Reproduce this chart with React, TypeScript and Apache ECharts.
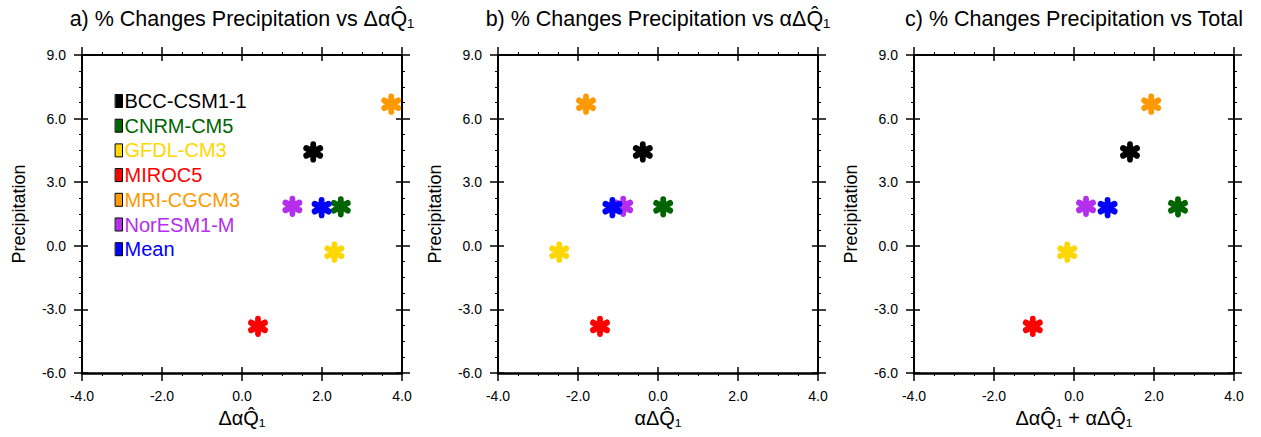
import React, { useEffect, useRef } from "react";
import * as echarts from "echarts";

const models = ["BCC-CSM1-1", "CNRM-CM5", "GFDL-CM3", "MIROC5", "MRI-CGCM3", "NorESM1-M", "Mean"];
const colors = ["#000000", "#006400", "#FFD700", "#FF0000", "#FF9900", "#B42EEE", "#0000FF"];
const precipitation = [4.43, 1.84, -0.3, -3.8, 6.68, 1.86, 1.8];
const dAlphaQ = [1.78, 2.47, 2.31, 0.4, 3.73, 1.26, 1.99];
const alphaDQ = [-0.38, 0.13, -2.47, -1.45, -1.8, -0.87, -1.14];
const totalQ = [1.4, 2.6, -0.17, -1.03, 1.93, 0.3, 0.84];

const titles = [
  "a) % Changes Precipitation vs \u0394\u03B1Q\u0302\u2081",
  "b) % Changes Precipitation vs \u03B1\u0394Q\u0302\u2081",
  "c) % Changes Precipitation vs Total",
];
const xNames = [
  "\u0394\u03B1Q\u0302\u2081",
  "\u03B1\u0394Q\u0302\u2081",
  "\u0394\u03B1Q\u0302\u2081 + \u03B1\u0394Q\u0302\u2081",
];
const yName = "Precipitation";
const xValues = [dAlphaQ, alphaDQ, totalQ];

const FONT = "'Liberation Sans', Arial, Helvetica, sans-serif";
const STAR = "path://M0,-10L0,10M-8.66,-5L8.66,5M-8.66,5L8.66,-5";

export default function App() {
  const ref = useRef<HTMLDivElement>(null);
  useEffect(() => {
    document.body.style.margin = "0";
    if (!ref.current) return;
    const chart = echarts.init(ref.current, null, { renderer: "svg" });
    const lefts = [82, 498, 914];
    const W = 320;
    const TOP = 55;
    const H = 318;
    const grids: any[] = [];
    for (let k = 0; k < 2; k++)
      lefts.forEach((l) => grids.push({ left: l, top: TOP, width: W, height: H, containLabel: false }));

    const line = { show: true, onZero: false, lineStyle: { color: "#000", width: 2 } };
    const xAxes: any[] = [];
    const yAxes: any[] = [];
    const xBase = { type: "value", min: -4, max: 4, interval: 2 };
    const yBase = { type: "value", min: -6, max: 9, interval: 3 };
    const common = { splitLine: { show: false } };
    const outTick = { show: true, inside: false, length: 8, lineStyle: { color: "#000", width: 1.5 } };
    const minor = { show: true, splitNumber: 4, length: 3, lineStyle: { color: "#000", width: 1 } };
    const label = { show: true, margin: 16, fontSize: 14, color: "#000", fontFamily: FONT, formatter: (v: number) => v.toFixed(1) };
    for (let p = 0; p < 3; p++) {
      xAxes.push({
        ...xBase, ...common, gridIndex: p, position: "bottom",
        axisLine: { show: true, onZero: false, lineStyle: { color: "#000", width: 2.5 } },
        axisTick: outTick,
        minorTick: minor,
        axisLabel: label,
        name: xNames[p], nameLocation: "middle", nameGap: 29,
        nameTextStyle: { fontSize: 20, color: "#000", fontFamily: FONT },
      });
      xAxes.push({
        ...xBase, ...common, gridIndex: p, position: "top",
        axisLine: line, axisTick: outTick, minorTick: minor,
        axisLabel: { show: false },
      });
      yAxes.push({
        ...yBase, ...common, gridIndex: p, position: "left",
        axisLine: line, axisTick: outTick, minorTick: minor,
        axisLabel: label,
        name: yName, nameLocation: "middle", nameGap: 54,
        nameTextStyle: { fontSize: 18, color: "#000", fontFamily: FONT },
      });
      yAxes.push({
        ...yBase, ...common, gridIndex: p, position: "right",
        axisLine: line, axisTick: outTick, minorTick: minor,
        axisLabel: { show: false },
      });
    }
    for (let p = 0; p < 3; p++) {
      const inner = {
        ...common,
        axisLine: { show: false, onZero: false },
        axisTick: { show: true, inside: true, length: 6, lineStyle: { color: "#000", width: 1.5 } },
        minorTick: { show: false },
        axisLabel: { show: false },
      };
      xAxes.push({ ...xBase, ...inner, gridIndex: p + 3, position: "bottom" });
      xAxes.push({ ...xBase, ...inner, gridIndex: p + 3, position: "top" });
      yAxes.push({ ...yBase, ...inner, gridIndex: p + 3, position: "left" });
      yAxes.push({ ...yBase, ...inner, gridIndex: p + 3, position: "right" });
    }

    const series: any[] = [];
    for (let p = 0; p < 3; p++) {
      models.forEach((m, i) => {
        series.push({
          type: "scatter",
          name: m,
          xAxisIndex: 2 * p,
          yAxisIndex: 2 * p,
          symbol: STAR,
          symbolSize: [14, 15],
          itemStyle: { color: colors[i], borderColor: colors[i], borderWidth: 6, borderCap: "round", opacity: 1 },
          emphasis: { disabled: true },
          data: [[xValues[p][i], precipitation[i]]],
        });
      });
    }

    const centers = lefts.map((l) => l + W / 2);
    chart.setOption({
      animation: false,
      title: titles.map((t, i) => ({
        text: t,
        left: centers[i] - 5,
        top: 3,
        textAlign: "center",
        textStyle: { fontSize: 21.5, fontWeight: "normal", color: "#000", fontFamily: FONT },
      })),
      legend: {
        orient: "vertical",
        left: 115,
        top: 91,
        padding: 0,
        itemWidth: 7,
        itemHeight: 13,
        itemGap: 4.7,
        icon: "rect",
        selectedMode: false,
        itemStyle: { borderColor: "#000", borderWidth: 1 },
        textStyle: { fontSize: 20, fontFamily: FONT, padding: [0, 0, 0, -3] },
        data: models.map((m, i) => ({ name: m, icon: "rect", textStyle: { color: colors[i] } })),
      },
      grid: grids,
      xAxis: xAxes,
      yAxis: yAxes,
      series,
    });
    return () => chart.dispose();
  }, []);
  return <div ref={ref} style={{ width: 1261, height: 437 }} />;
}
